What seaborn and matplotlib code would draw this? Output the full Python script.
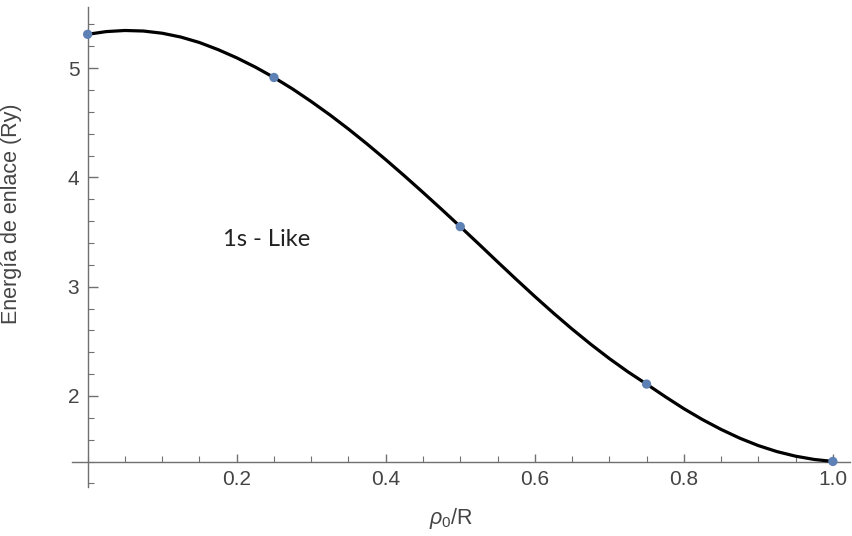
import numpy as np
import pandas as pd
import matplotlib
matplotlib.use("Agg")
import matplotlib.pyplot as plt
import matplotlib.ticker as mticker
import seaborn as sns

sns.set_theme(style="white")
plt.rcParams['font.family'] = ['Liberation Sans', 'DejaVu Sans']
plt.rcParams['mathtext.fontset'] = 'custom'
plt.rcParams['mathtext.it'] = 'Liberation Sans:italic'
plt.rcParams['mathtext.rm'] = 'Liberation Sans'

# curva (paso 0.025)
curve_x = [0.0, 0.025, 0.05, 0.075, 0.1, 0.125, 0.15, 0.175, 0.2, 0.225,
           0.25, 0.275, 0.3, 0.325, 0.35, 0.375, 0.4, 0.425, 0.45, 0.475,
           0.5, 0.525, 0.55, 0.575, 0.6, 0.625, 0.65, 0.675, 0.7, 0.725,
           0.75, 0.775, 0.8, 0.825, 0.85, 0.875, 0.9, 0.925, 0.95, 0.975, 1.0]
curve_y = [5.31, 5.335, 5.345, 5.34, 5.32, 5.285, 5.235, 5.17, 5.095, 5.01,
           4.915, 4.81, 4.695, 4.573, 4.443, 4.306, 4.163, 4.015, 3.863, 3.708,
           3.55, 3.39, 3.228, 3.068, 2.911, 2.759, 2.613, 2.474, 2.343, 2.221,
           2.109, 1.994, 1.884, 1.784, 1.694, 1.614, 1.546, 1.491, 1.449, 1.419, 1.401]

# puntos calculados
pts_x = [0.0, 0.25, 0.5, 0.75, 1.0]
pts_y = [5.31, 4.915, 3.55, 2.109, 1.401]

x_ticks = [0.2, 0.4, 0.6, 0.8, 1.0]
x_labels = ['0.2', '0.4', '0.6', '0.8', '1.0']
y_ticks = [2, 3, 4, 5]
y_labels = ['2', '3', '4', '5']

df_curve = pd.DataFrame({'x': curve_x, 'y': curve_y})
df_pts = pd.DataFrame({'x': pts_x, 'y': pts_y})

fig = plt.figure(figsize=(8.53, 5.36), dpi=100)
ax = fig.add_axes([72 / 853, 49 / 536, 778 / 853, 480 / 536])

sns.lineplot(data=df_curve, x='x', y='y', ax=ax, color='black', linewidth=2.3, zorder=3)
sns.scatterplot(data=df_pts, x='x', y='y', ax=ax, color='#5E81B5', s=45,
                edgecolor='none', zorder=4, clip_on=False)

ax.set_xlim(-0.021, 1.023)
ax.set_ylim(1.167, 5.56)

for s in ['top', 'right']:
    ax.spines[s].set_visible(False)
ax.spines['left'].set_position(('data', 0))
ax.spines['bottom'].set_position(('data', 1.397))
for s in ['left', 'bottom']:
    ax.spines[s].set_color('#707070')
    ax.spines[s].set_linewidth(1.0)

ax.set_xticks(x_ticks)
ax.set_xticklabels(x_labels)
ax.set_yticks(y_ticks)
ax.set_yticklabels(y_labels)
ax.xaxis.set_minor_locator(mticker.MultipleLocator(0.05))
ax.yaxis.set_minor_locator(mticker.MultipleLocator(0.2))

ax.tick_params(axis='both', which='both', direction='in', color='#707070',
               labelcolor='#444444', labelsize=15, bottom=True, left=True)
ax.tick_params(axis='x', which='major', length=6, width=1, pad=6)
ax.tick_params(axis='x', which='minor', length=4, width=0.8)
ax.tick_params(axis='y', which='major', length=7, width=1, pad=6)
ax.tick_params(axis='y', which='minor', length=4, width=0.8)

ax.set_xlabel(r'$\rho_0$/R', fontsize=15.5, color='#444444')
ax.set_ylabel('Energía de enlace (Ry)', fontsize=15.5, color='#444444')
ax.xaxis.set_label_coords(0.487, -0.04)
ax.yaxis.set_label_coords(-0.064, 0.57)

ax.text(0.24, 3.43, '1s - Like', fontsize=17, family=['Lato', 'DejaVu Sans'],
        color='#222222', ha='center', va='center')

fig.savefig('out.png', dpi=100)
